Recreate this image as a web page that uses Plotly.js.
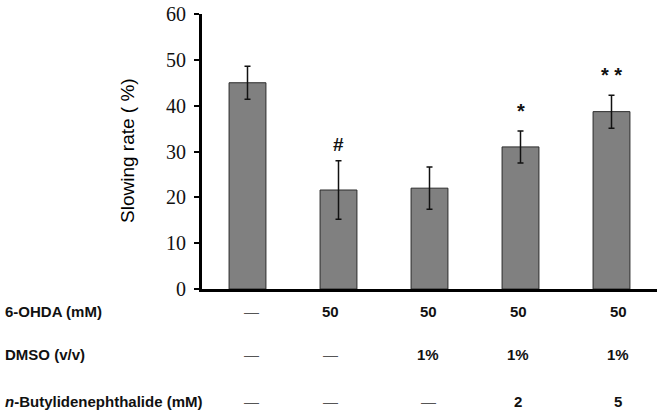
<!DOCTYPE html>
<html><head><meta charset="utf-8">
<script src="https://cdn.plot.ly/plotly-3.0.1.min.js"></script>
<style>html,body{margin:0;padding:0;background:#fff}#c{width:664px;height:417px}</style>
</head><body><div id="c"></div>
<script>
const groups = [0, 1, 2, 3, 4];
const means = [45.0, 21.6, 22.0, 31.0, 38.7];
const errs = [3.6, 6.4, 4.6, 3.5, 3.6];
const marks = ['', '#', '', '*', '* *'];
const rowLabels = ['6-OHDA (mM)', 'DMSO (v/v)', '<i>n</i>-Butylidenephthalide (mM)'];
const ohda = ['—', '50', '50', '50', '50'];
const dmso = ['—', '—', '1%', '1%', '1%'];
const nbp = ['—', '—', '—', '2', '5'];
const yTicks = [0, 10, 20, 30, 40, 50, 60];

const L = 202, R = 657, T = 14, B = 289;
const pw = R - L, ph = B - T;
const colPx = [251.7, 330.7, 428, 518, 618];
const rowPx = [311.7, 354.5, 401.7];
const px2x = p => (p - L) / pw;
const py2y = p => (B - p) / ph;

const ann = [];
const rows = [ohda, dmso, nbp];
rows.forEach((row, r) => {
  ann.push({xref:'paper', yref:'paper', x: px2x(3), y: py2y(rowPx[r]), xanchor:'left', yanchor:'middle',
    text: '<b>' + rowLabels[r] + '</b>', showarrow:false,
    font:{family:'Liberation Sans, Arial', size:15, color:'#111'}});
  row.forEach((v, c) => {
    ann.push({xref:'paper', yref:'paper', x: px2x(colPx[c]), y: py2y(rowPx[r]), xanchor:'center', yanchor:'middle',
      text: v === '—' ? v : '<b>' + v + '</b>', showarrow:false,
      font:{family:'Liberation Sans, Arial', size:15, color: v === '—' ? '#555' : '#111'}});
  });
});
marks.forEach((m, i) => {
  if (!m) return;
  ann.push({xref:'x', yref:'y', x: groups[i], y: means[i] + errs[i], xanchor:'center', yanchor:'bottom',
    yshift: m === '#' ? 4 : 7, text: '<b>' + m + '</b>', showarrow:false,
    font:{family:'Liberation Sans, Arial', size: m === '#' ? 19 : 20, color:'#111'}});
});
ann.push({xref:'paper', yref:'paper', x: px2x(127), y: py2y(151), xanchor:'center', yanchor:'middle',
  textangle:-90, text:'Slowing rate ( %)', showarrow:false,
  font:{family:'Liberation Sans, Arial', size:19, color:'#000'}});

const trace = {
  type:'bar', x: groups, y: means,
  marker:{color:'#808080', line:{color:'#2a2a2a', width:1}},
  error_y:{type:'data', array: errs, visible:true, color:'#111', thickness:1.5, width:3},
  width: 0.405
};
const layout = {
  width:664, height:417,
  margin:{l:L, r:664-R, t:T, b:417-B, pad:0},
  paper_bgcolor:'#fff', plot_bgcolor:'#fff',
  showlegend:false,
  xaxis:{range:[-0.5, 4.5], showticklabels:false, ticks:'', showgrid:false, zeroline:false,
    showline:true, linecolor:'#000', linewidth:3, fixedrange:true},
  yaxis:{range:[0, 60], tickvals: yTicks, ticktext: yTicks.map(String), ticks:'outside', ticklen:5, tickwidth:2,
    tickcolor:'#000', showgrid:false, zeroline:false, showline:true, linecolor:'#000', linewidth:3,
    ticklabelstandoff:4,
    tickfont:{family:'Liberation Serif, Times New Roman', size:20, color:'#111'}},
  annotations: ann
};
Plotly.newPlot('c', [trace], layout, {staticPlot:true, displayModeBar:false});
</script></body></html>
